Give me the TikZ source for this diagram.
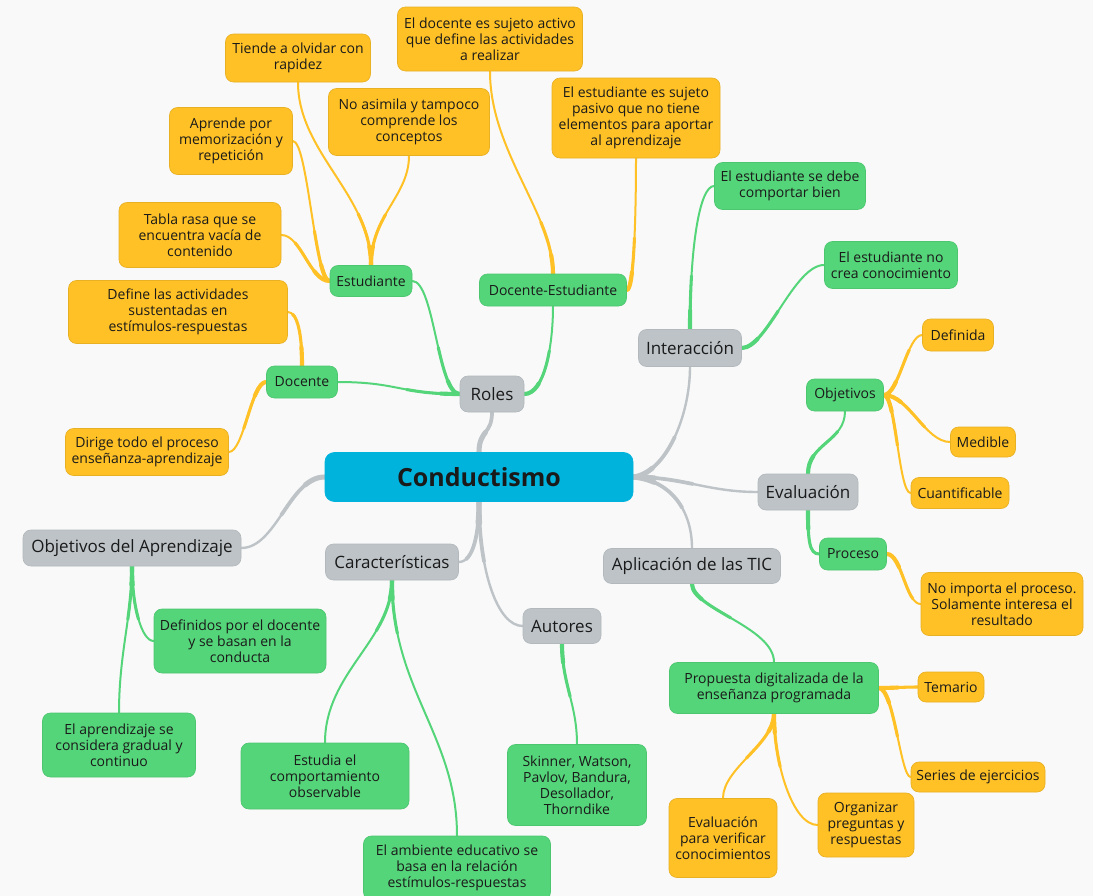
\documentclass[tikz,border=0pt]{standalone}
\usepackage{fontspec}
\setmainfont{Open Sans}
\usetikzlibrary{calc}
\definecolor{bg}{HTML}{F9F9F9}
\definecolor{yel}{HTML}{FFC125}
\definecolor{yelb}{HTML}{E8B023}
\definecolor{grn}{HTML}{55D57A}
\definecolor{grnb}{HTML}{4DC670}
\definecolor{gry}{HTML}{BDC3C7}
\definecolor{gryb}{HTML}{B2B8BC}
\definecolor{blu}{HTML}{00B3DD}
\definecolor{txt}{HTML}{1A1A1A}
\pgfdeclarelayer{links}
\pgfsetlayers{links,main}
\tikzset{
  sz/.style 2 args={minimum width={#1*0.75pt}, minimum height={#2*0.75pt}},
  basebox/.style={rounded corners=6pt, align=center, inner sep=0pt, text=txt,
    line width=0.5pt, font=\fontsize{10.5}{12}\selectfont},
  yb/.style={basebox, fill=yel, draw=yelb},
  gb/.style={basebox, fill=grn, draw=grnb},
  sb/.style={basebox, fill=gry, draw=gryb, font=\fontsize{12.75}{15}\selectfont},
  rootbox/.style={basebox, fill=blu, draw=blu, rounded corners=7pt,
    font=\fontsize{18.75}{22}\selectfont\bfseries},
  % tapered branch: thick at the parent end, thin at the child end
  link/.style={line width=1.5pt, line cap=round,
    postaction={draw, line width=2.3pt, dash pattern=on 40pt off 3000pt},
    postaction={draw, line width=3.1pt, dash pattern=on 14pt off 3000pt}},
  ylink/.style={draw=yel, link},
  glink/.style={draw=grn, link},
  slink/.style={draw=gry, line width=1.8pt, line cap=round,
    postaction={draw, line width=2.8pt, dash pattern=on 45pt off 3000pt},
    postaction={draw, line width=3.8pt, dash pattern=on 16pt off 3000pt}},
}
\begin{document}
\begin{tikzpicture}[x=0.75pt, y=-0.75pt]
\useasboundingbox (0,0) rectangle (1093,896);
\begin{pgfonlayer}{links}
  \fill[bg] (0,0) rectangle (1093,896);
\end{pgfonlayer}

% centre
\node[rootbox, sz={308}{49}] (root) at (479,477) {Conductismo};

% main branches
\node[sb, sz={64}{36}]  (roles)   at (492,394) {Roles};
\node[sb, sz={218}{36}] (oda)     at (132,548) {Objetivos del Aprendizaje};
\node[sb, sz={133}{36}] (car)     at (392,562) {Características};
\node[sb, sz={78}{35}]  (autores) at (562,626) {Autores};
\node[sb, sz={103}{37}] (inter)   at (690,348) {Interacción};
\node[sb, sz={100}{36}] (evalu)   at (808,492) {Evaluación};
\node[sb, sz={177}{35}] (aplic)   at (692,566) {Aplicación de las TIC};

% second level
\node[gb, sz={82}{31}]  (estud)  at (371,281) {Estudiante};
\node[gb, sz={147}{32}] (doest)  at (553,290) {Docente-Estudiante};
\node[gb, sz={71}{32}]  (docen)  at (302,382) {Docente};
\node[gb, sz={151}{47}] (debe)   at (790,186) {El estudiante se debe\\comportar bien};
\node[gb, sz={133}{47}] (nocrea) at (891,265) {El estudiante no\\crea conocimiento};
\node[gb, sz={77}{32}]  (objet)  at (845,395) {Objetivos};
\node[gb, sz={67}{32}]  (proce)  at (853,554) {Proceso};
\node[gb, sz={209}{51}] (propu)  at (774,688) {Propuesta digitalizada de la\\enseñanza programada};
\node[gb, sz={139}{81}] (skin)   at (577,785) {Skinner, Watson,\\Pavlov, Bandura,\\Desollador,\\Thorndike};
\node[gb, sz={172}{64}] (defdo)  at (240,641) {Definidos por el docente\\y se basan en la\\conducta};
\node[gb, sz={153}{64}] (aprgr)  at (119,745) {El aprendizaje se\\considera gradual y\\continuo};
\node[gb, sz={168}{66}] (estob)  at (325,776) {Estudia el\\comportamiento\\observable};
\node[gb, sz={187}{64}] (ambie)  at (457,868) {El ambiente educativo se\\basa en la relación\\estímulos-respuestas};

% third level
\node[yb, sz={145}{48}] (tiende) at (298,58)  {Tiende a olvidar con\\rapidez};
\node[yb, sz={185}{64}] (doact)  at (490,39)  {El docente es sujeto activo\\que define las actividades\\a realizar};
\node[yb, sz={161}{67}] (noasi)  at (409,122) {No asimila y tampoco\\comprende los\\conceptos};
\node[yb, sz={123}{67}] (aprme)  at (231,141) {Aprende por\\memorización y\\repetición};
\node[yb, sz={168}{80}] (pasiv)  at (636,118) {El estudiante es sujeto\\pasivo que no tiene\\elementos para aportar\\al aprendizaje};
\node[yb, sz={162}{65}] (tabla)  at (200,235) {Tabla rasa que se\\encuentra vacía de\\contenido};
\node[yb, sz={219}{63}] (defin)  at (178,312) {Define las actividades\\sustentadas en\\estímulos-respuestas};
\node[yb, sz={163}{47}] (dirig)  at (147,452) {Dirige todo el proceso\\enseñanza-aprendizaje};
\node[yb, sz={71}{32}]  (defi)   at (958,335) {Definida};
\node[yb, sz={65}{30}]  (medi)   at (983,442) {Medible};
\node[yb, sz={98}{31}]  (cuan)   at (960,493) {Cuantificable};
\node[yb, sz={162}{63}] (noimp)  at (1002,604) {No importa el proceso.\\Solamente interesa el\\resultado};
\node[yb, sz={66}{30}]  (tema)   at (951,687) {Temario};
\node[yb, sz={134}{30}] (serie)  at (978,777) {Series de ejercicios};
\node[yb, sz={108}{79}] (evver)  at (723,838) {Evaluación\\para verificar\\conocimientos};
\node[yb, sz={96}{64}]  (organ)  at (866,825) {Organizar\\preguntas y\\respuestas};

\begin{pgfonlayer}{links}
  % centre to main branches
  \draw[slink] (root.north) .. controls +(0,-22) and +(0,22) .. (roles.south);
  \draw[slink] (root.west) .. controls +(-35,0) and +(35,0) .. (oda.east);
  \draw[slink] (root.south) .. controls +(0,30) and +(15,0) .. (car.east);
  \draw[slink] (root.south) .. controls +(0,70) and +(-25,0) .. (autores.west);
  \draw[slink] (root.east) .. controls +(32,-4) and +(0,50) .. (inter.south);
  \draw[slink] (root.east) .. controls +(50,0) and +(-50,0) .. (evalu.west);
  \draw[slink] (root.east) .. controls +(40,4) and +(0,-35) .. (aplic.north);

  % second level links
  \draw[glink] (roles.west) .. controls +(-22,0) and +(22,0) .. (estud.east);
  \draw[glink] (roles.west) .. controls +(-60,0) and +(60,0) .. (docen.east);
  \draw[glink] (roles.east) .. controls +(20,0) and +(0,40) .. (doest.south);
  \draw[glink] (inter.north) .. controls +(0,-80) and +(-15,0) .. (debe.west);
  \draw[glink] (inter.east) .. controls +(25,0) and +(-30,0) .. (nocrea.west);
  \draw[glink] (evalu.north) .. controls +(0,-30) and +(0,30) .. (objet.south);
  \draw[glink] (evalu.south) .. controls +(0,30) and +(-10,0) .. (proce.west);
  \draw[glink] (aplic.south) .. controls +(0,25) and +(0,-35) .. (propu.north);
  \draw[glink] (autores.south) .. controls +(0,40) and +(0,-40) .. (skin.north);
  \draw[glink] (oda.south) .. controls +(0,40) and +(-12,0) .. (defdo.west);
  \draw[glink] (oda.south) .. controls +(0,50) and +(0,-60) .. (aprgr.north);
  \draw[glink] (car.south) .. controls +(0,60) and +(0,-70) .. (estob.north);
  \draw[glink] (car.south) .. controls +(0,110) and +(0,-100) .. (ambie.north);

  % third level links
  \draw[ylink] (estud.north) .. controls +(0,-70) and +(0,70) .. (tiende.south);
  \draw[ylink] (estud.north) .. controls +(0,-50) and +(0,40) .. (noasi.south);
  \draw[ylink] (estud.west) .. controls +(-15,0) and +(15,0) .. (aprme.east);
  \draw[ylink] (estud.west) .. controls +(-20,0) and +(20,0) .. (tabla.east);
  \draw[ylink] (doest.north) .. controls +(0,-60) and +(0,80) .. (doact.south);
  \draw[ylink] (doest.east) .. controls +(8,0) and +(0,40) .. (pasiv.south);
  \draw[ylink] (docen.north) .. controls +(0,-30) and +(10,0) .. (defin.east);
  \draw[ylink] (docen.west) .. controls +(-15,0) and +(15,0) .. (dirig.east);
  \draw[ylink] (objet.east) .. controls +(15,0) and +(-15,0) .. (defi.west);
  \draw[ylink] (objet.east) .. controls +(25,0) and +(-25,0) .. (medi.west);
  \draw[ylink] (objet.east) .. controls +(12,0) and +(-12,0) .. (cuan.west);
  \draw[ylink] (proce.east) .. controls +(15,0) and +(-15,0) .. (noimp.west);
  \draw[ylink] (propu.east) .. controls +(15,0) and +(-15,0) .. (tema.west);
  \draw[ylink] (propu.east) .. controls +(15,0) and +(-10,0) .. (serie.west);
  \draw[ylink] (propu.south) .. controls +(0,30) and +(0,-30) .. (evver.north);
  \draw[ylink] (propu.south) .. controls +(0,50) and +(-25,0) .. (organ.west);
\end{pgfonlayer}
\end{tikzpicture}
\end{document}
